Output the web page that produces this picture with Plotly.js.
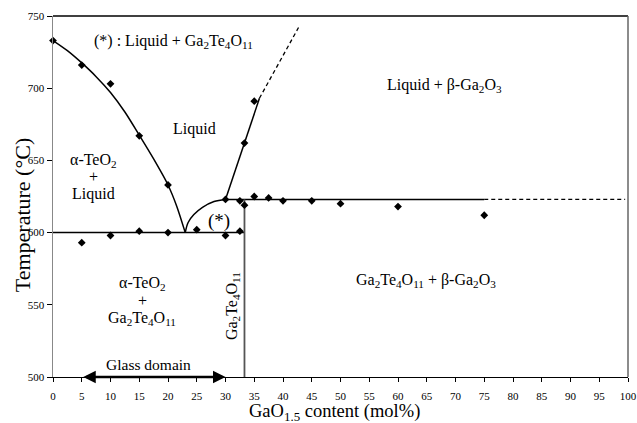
<!DOCTYPE html>
<html><head><meta charset="utf-8">
<script src="https://cdn.plot.ly/plotly-3.0.1.min.js"></script>
<style>body{margin:0;background:#fff}#chart{width:637px;height:423px}</style>
</head><body><div id="chart"></div>
<script>
// Measured points (diamonds)
const ptsX = [0, 5, 10, 15, 20, 5, 10, 15, 20, 25, 30, 32.5, 33.3, 30, 32.5, 35, 37.5, 40, 45, 50, 60, 75, 33.3, 35];
const ptsY = [733, 716, 703, 667, 633, 593, 598, 601, 600, 602, 598, 601, 619, 623, 622, 625, 624, 622, 622, 620, 618, 612, 662, 691];

// Liquidus of alpha-TeO2
const liqTeX = [0, 2.5, 5, 7.5, 10, 12.5, 15, 17.5, 20, 21.5, 23];
const liqTeY = [733, 726, 717.5, 708, 697, 683.5, 667.5, 651, 633, 618.5, 600];
// Liquidus in the (*) region (Liquid + Ga2Te4O11)
const liqGtX = [23, 23.5, 24.5, 26, 28, 30];
const liqGtY = [600, 607, 612.5, 617.5, 621.5, 623];
// Liquidus of beta-Ga2O3 (solid, then dashed)
const liqGaX = [30, 33.3, 35.9];
const liqGaY = [623, 662, 693];
const liqGaDashX = [35.9, 42.7];
const liqGaDashY = [693, 742];
// Eutectic line
const eutX = [0, 33.3];
const eutY = [600, 600];
// Peritectic line (solid, then dashed)
const perX = [30, 75];
const perY = [623, 623];
const perDashX = [75, 99.5];
const perDashY = [623, 623];
// Compound line Ga2Te4O11
const compX = [33.3, 33.3];
const compY = [500, 623];
// Glass domain
const glassRange = [5, 30];
const glassY = 500;
// Tick labels
const xTicks = [0,5,10,15,20,25,30,35,40,45,50,55,60,65,70,75,80,85,90,95,100];
const yTicks = [500,550,600,650,700,750];

const font = "Liberation Serif";
const blk = {color:'#000', width:1.5};

const traces = [
  {x: liqTeX, y: liqTeY, mode:'lines', line:{color:'#000', width:1.5, shape:'spline', smoothing:0.8}},
  {x: liqGtX, y: liqGtY, mode:'lines', line:{color:'#000', width:1.5, shape:'spline'}},
  {x: liqGaX, y: liqGaY, mode:'lines', line:blk},
  {x: liqGaDashX, y: liqGaDashY, mode:'lines', line:{color:'#000', width:1.3, dash:'4px,3px'}},
  {x: eutX, y: eutY, mode:'lines', line:blk},
  {x: perX, y: perY, mode:'lines', line:blk},
  {x: perDashX, y: perDashY, mode:'lines', line:{color:'#000', width:1.3, dash:'4px,3px'}},
  {x: compX, y: compY, mode:'lines', line:{color:'#555', width:1.8}},
  {x: ptsX, y: ptsY, mode:'markers', cliponaxis:false, marker:{symbol:'diamond', size:6, color:'#000'}}
];

const ann = (x, y, text, extra) => Object.assign({x, y, xref:'x', yref:'y', text, showarrow:false,
  font:{family:font, size:16, color:'#000'}}, extra||{});

const layout = {
  width:637, height:423,
  margin:{l:53, r:9, t:16, b:46},
  paper_bgcolor:'#fff', plot_bgcolor:'#fff',
  showlegend:false,
  font:{family:font, color:'#000'},
  xaxis:{range:[0,100], tickvals:xTicks,
    showgrid:false, zeroline:false, showline:true, linecolor:'#000', linewidth:1,
    ticks:'outside', ticklen:4, tickcolor:'#000', tickfont:{family:font, size:11}, ticklabelstandoff:5},
  yaxis:{range:[500,750], tickvals:yTicks,
    showgrid:false, zeroline:false, showline:true, linecolor:'#888', linewidth:1.5,
    ticks:'outside', ticklen:5, tickcolor:'#000', tickfont:{family:font, size:11}, ticklabelstandoff:0},
  shapes:[
    {type:'line', xref:'paper', yref:'paper', x0:0, x1:1, y0:1, y1:1, line:{color:'#000', width:1.5}},
    {type:'line', xref:'paper', yref:'paper', x0:1, x1:1, y0:0, y1:1, line:{color:'#666', width:1.5}}
  ],
  annotations:[
    {xref:'paper', yref:'y', x:-0.054, y:612, xanchor:'center', yanchor:'middle', textangle:-90, showarrow:false,
     text:'Temperature (°C)', font:{family:font, size:22, color:'#000'}},
    {xref:'paper', yref:'paper', x:0.49, y:-0.097, xanchor:'center', yanchor:'middle', showarrow:false,
     text:'GaO<sub>1.5</sub> content (mol%)', font:{family:font, size:18.5, color:'#000'}},
    ann(20.9, 732, '(*) : Liquid + Ga<sub>2</sub>Te<sub>4</sub>O<sub>11</sub>'),
    ann(24.6, 672, 'Liquid'),
    ann(7, 650, 'α-TeO<sub>2</sub>'),
    ann(7, 639, '+'),
    ann(7, 626.5, 'Liquid'),
    ann(28.9, 608, '(*)', {font:{family:font, size:19, color:'#000'}}),
    ann(15.5, 565, 'α-TeO<sub>2</sub>'),
    ann(15.5, 553.3, '+'),
    ann(15.5, 540.6, 'Ga<sub>2</sub>Te<sub>4</sub>O<sub>11</sub>'),
    ann(31.1, 549, 'Ga<sub>2</sub>Te<sub>4</sub>O<sub>11</sub>', {textangle:-90}),
    ann(68, 702, 'Liquid + β-Ga<sub>2</sub>O<sub>3</sub>'),
    ann(64.8, 567, 'Ga<sub>2</sub>Te<sub>4</sub>O<sub>11</sub> + β-Ga<sub>2</sub>O<sub>3</sub>'),
    ann(16.6, 508.5, 'Glass domain', {font:{family:font, size:15.5, color:'#000'}}),
    {x:glassRange[1], y:glassY, ax:glassRange[0], ay:glassY, xref:'x', yref:'y', axref:'x', ayref:'y',
     text:'', showarrow:true, arrowhead:2, startarrowhead:2, arrowside:'end+start', arrowsize:1, startarrowsize:1, arrowwidth:2.5, arrowcolor:'#000'}
  ]
};
Plotly.newPlot('chart', traces, layout, {displayModeBar:false, staticPlot:true});
</script></body></html>
